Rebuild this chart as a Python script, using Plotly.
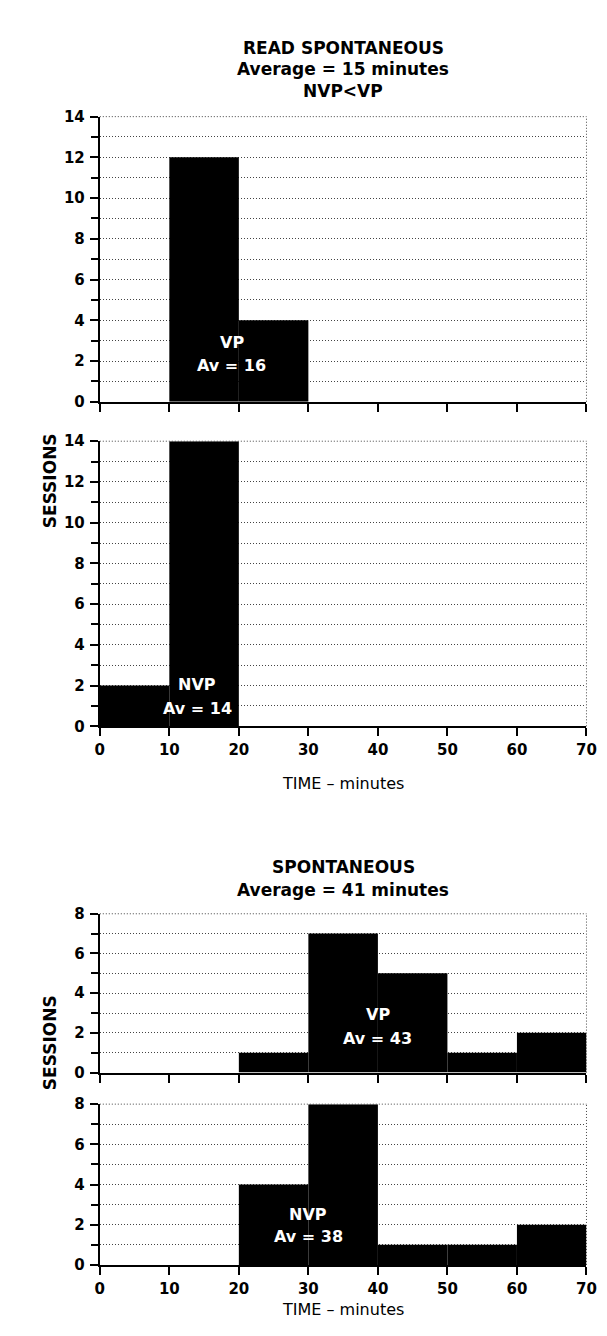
import plotly.graph_objects as go

# ---------------- data ----------------
bin_starts = [0, 10, 20, 30, 40, 50, 60]
bin_width = 10
read_vp = [0, 12, 4, 0, 0, 0, 0]
read_nvp = [2, 14, 0, 0, 0, 0, 0]
spont_vp = [0, 0, 1, 7, 5, 1, 2]
spont_nvp = [0, 0, 4, 8, 1, 1, 2]
x_ticks = [0, 10, 20, 30, 40, 50, 60, 70]

read_title = ["READ SPONTANEOUS", "Average = 15 minutes", "NVP<VP"]
spont_title = ["SPONTANEOUS", "Average = 41 minutes"]
x_title = "TIME \u2013 minutes"
y_title = "SESSIONS"

group_labels = [
    ("VP", "Av = 16", 19, 2.9, 1.8),
    ("NVP", "Av = 14", 14, 2.05, 0.88),
    ("VP", "Av = 43", 40, 2.95, 1.72),
    ("NVP", "Av = 38", 30, 2.52, 1.41),
]

# ---------------- layout helpers ----------------
W, H = 607, 1336
def px(x):
    return x / W
def py(y):
    return 1 - y / H

x_dom = [px(89), px(588)]
panels = [
    # values, ymax, (top px, zero px), show x labels, x-title px
    (read_vp, 14, (101, 390), False, None),
    (read_nvp, 14, (430, 719), True, 777),
    (spont_vp, 8, (909, 1070), False, None),
    (spont_nvp, 8, (1102, 1265), True, 1321),
]

FONT = "DejaVu Sans, Liberation Sans, Arial, sans-serif"
GRID = "#444444"
GDASH = "1px,2px"
fig = go.Figure()
layout = dict(
    width=W, height=H,
    margin=dict(l=0, r=0, t=0, b=0),
    paper_bgcolor="white", plot_bgcolor="white",
    showlegend=False,
    font=dict(family=FONT, color="black"),
)
shapes = []
annotations = []
tickfont = dict(size=15, family=FONT, color="black", weight="bold")

for i, (vals, ymax, (ytop, ybot), show_xlabels, xt_px) in enumerate(panels, start=1):
    sfx = "" if i == 1 else str(i)
    fig.add_trace(go.Bar(
        x=[s + bin_width / 2 for s in bin_starts], y=vals, width=bin_width,
        marker=dict(color="black", line=dict(width=0)),
        xaxis="x" + sfx, yaxis="y" + sfx, hoverinfo="x+y",
    ))
    layout["xaxis" + sfx] = dict(
        domain=x_dom, range=[0, 70], anchor="y" + sfx,
        showline=True, linewidth=2, linecolor="black",
        ticks="outside", ticklen=8, tickwidth=2, tickcolor="black",
        tickvals=x_ticks, showticklabels=show_xlabels,
        tickfont=tickfont, ticklabelstandoff=1,
        showgrid=False, zeroline=False, fixedrange=True,
    )
    layout["yaxis" + sfx] = dict(
        domain=[py(ybot), py(ytop)], range=[0, ymax], anchor="x" + sfx,
        showline=True, linewidth=2, linecolor="black",
        ticks="outside", ticklen=8, tickwidth=2, tickcolor="black",
        tick0=0, dtick=2,
        tickfont=tickfont, ticklabelstandoff=2,
        showgrid=True, gridcolor=GRID, griddash=GDASH, gridwidth=1,
        zeroline=False, fixedrange=True,
        minor=dict(dtick=1, tick0=0, ticks="outside", ticklen=7, tickwidth=2,
                   tickcolor="black", showgrid=True, gridcolor=GRID,
                   griddash=GDASH, gridwidth=1),
    )
    # dotted right border and top border
    shapes.append(dict(type="line", xref="x%s domain" % sfx, yref="y%s domain" % sfx,
                       x0=1, x1=1, y0=0, y1=1,
                       line=dict(color=GRID, width=1, dash=GDASH)))
    shapes.append(dict(type="line", xref="x%s domain" % sfx, yref="y%s domain" % sfx,
                       x0=0, x1=1, y0=1, y1=1,
                       line=dict(color=GRID, width=1, dash=GDASH)))
    name, av, gx, gy1, gy2 = group_labels[i - 1]
    for txt, gy in ((name, gy1), (av, gy2)):
        annotations.append(dict(
            text="<b>%s</b>" % txt, x=gx, y=gy, xref="x" + sfx, yref="y" + sfx,
            showarrow=False, font=dict(size=16, color="white", family=FONT),
        ))
    if show_xlabels:
        annotations.append(dict(
            text=x_title, x=0.5, xref="x%s domain" % sfx,
            y=py(xt_px), yref="paper", showarrow=False, borderpad=0,
            font=dict(size=16, family=FONT, color="black"),
        ))

# titles
cx = (x_dom[0] + x_dom[1]) / 2
for txt, y in zip(read_title, [19, 41, 63]):
    annotations.append(dict(text="<b>%s</b>" % txt, x=cx, y=py(y), xref="paper", yref="paper",
                            showarrow=False, font=dict(size=17, family=FONT, color="black")))
for txt, y in zip(spont_title, [862, 885]):
    annotations.append(dict(text="<b>%s</b>" % txt, x=cx, y=py(y), xref="paper", yref="paper",
                            showarrow=False, font=dict(size=17, family=FONT, color="black")))
# y titles
for y in (420, 1090):
    annotations.append(dict(text="<b>%s</b>" % y_title, x=px(25), y=py(y), xref="paper",
                            yref="paper", textangle=-90, showarrow=False,
                            font=dict(size=17, family=FONT, color="black")))

layout["shapes"] = shapes
layout["annotations"] = annotations
fig.update_layout(**layout)
fig.write_html("out.html")
